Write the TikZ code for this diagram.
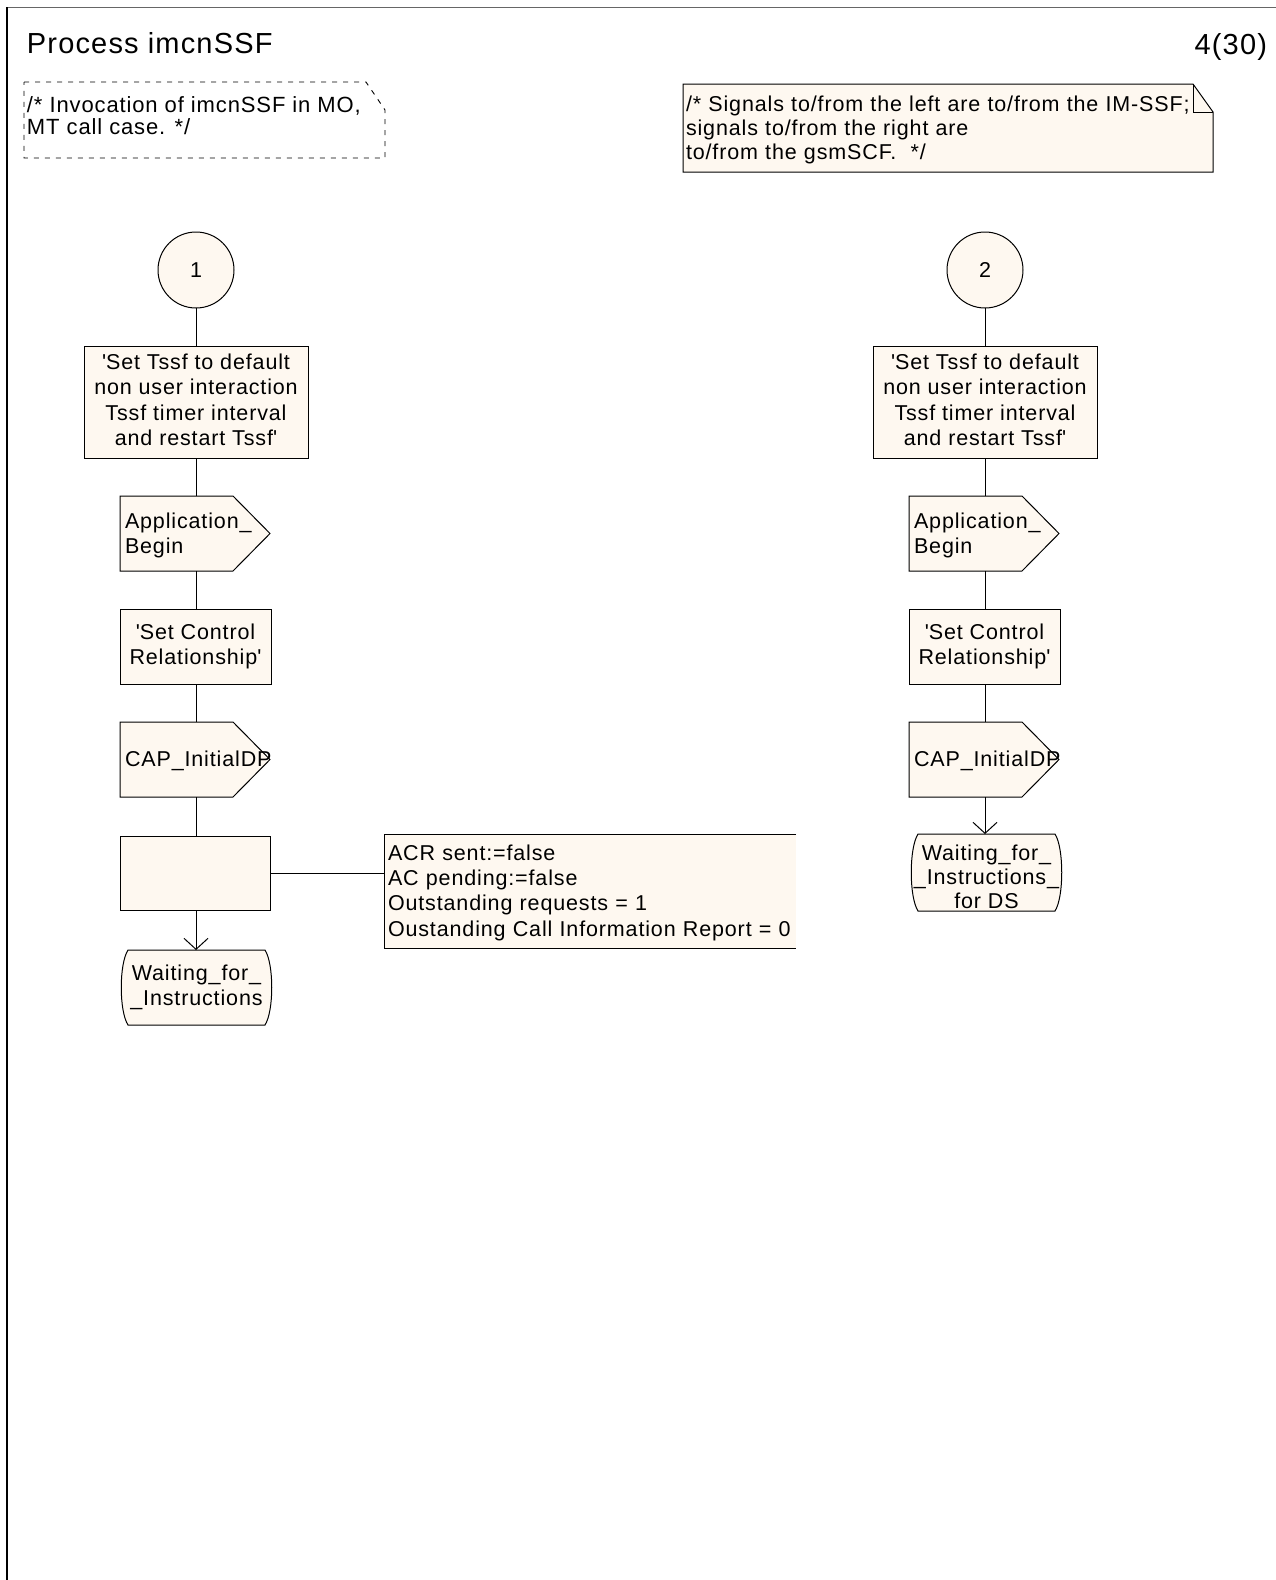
\documentclass[tikz,border=0pt]{standalone}
\usepackage{fontspec}
\setmainfont{Liberation Sans}[LetterSpace=4]
\usetikzlibrary{arrows.meta,calc,backgrounds}
\definecolor{cream}{HTML}{FEF8F0}
\newcommand{\qs}{\textquotesingle}
\newcommand{\mystrut}{\rule[-4.5pt]{0pt}{23.5pt}}
\newcommand{\sigpath}[1]{\draw[ln,fill=cream] (#1.north west) -- ([xshift=-37pt]#1.north east) -- (#1.east) -- ([xshift=-37pt]#1.south east) -- (#1.south west) -- cycle;}
\newcommand{\statepath}[1]{\draw[ln,fill=cream] ([xshift=8pt]#1.north west) -- ([xshift=-8pt]#1.north east) .. controls ([xshift=1pt,yshift=-14pt]#1.north east) and ([xshift=1pt,yshift=14pt]#1.south east) .. ([xshift=-8pt]#1.south east) -- ([xshift=8pt]#1.south west) .. controls ([xshift=-1pt,yshift=14pt]#1.south west) and ([xshift=-1pt,yshift=-14pt]#1.north west) .. cycle;}
\begin{document}
\begin{tikzpicture}[x=1pt,y=-1pt,
  every node/.style={inner sep=0pt,outer sep=0pt,font=\fontsize{21.5}{25.3}\selectfont},
  ln/.style={line width=1pt,draw=black},
  st/.style={execute at begin node={\mystrut},execute at end node={\mystrut}},
  boxnode/.style={ln,fill=cream,align=center,st},
  connector/.style={ln,fill=cream,circle,minimum size=76pt,st},
  sigbody/.style={anchor=west,minimum width=150pt,minimum height=75pt,text width=140pt,inner xsep=5pt,align=left,st},
  statebody/.style={minimum width=153pt,align=center,st},
  arr/.style={ln,-{Straight Barb[length=11pt,width=24pt,line width=1pt]}}
]
\begin{scope}[on background layer]
\fill[white] (0,0) rectangle (1276,1580);
\end{scope}
\useasboundingbox (0,0) rectangle (1276,1580);

% frame
\draw[line width=1.3pt,black!60] (7,7.5) -- (1276,7.5);
\draw[line width=1.3pt] (7,7) -- (7,1580);

% title
\node[anchor=base west,font=\fontsize{29}{34}\selectfont] (title) at (27,53) {Process imcnSSF};
\node[anchor=base east,font=\fontsize{29}{34}\selectfont] (page) at (1267,54) {4(30)};

% comment
\draw[line width=0.9pt,dash pattern=on 5pt off 6pt] (24,82) -- (366,82) -- (385,110) -- (385,158) -- (24,158) -- cycle;
\node[anchor=north west,align=left,font=\fontsize{22}{21.5}\selectfont] (cmt) at (27,97) {/* Invocation of imcnSSF in MO,\\MT call case. */};

% note
\node[anchor=north west,minimum width=530pt,minimum height=88pt,text width=524pt,inner xsep=3pt,align=left,font=\fontsize{21.5}{24.2}\selectfont,st] (note) at (683,84) {/* Signals to/from the left are to/from the IM-SSF;\\signals to/from the right are\\to/from the gsmSCF.\ \ */};

% left column
\node[connector] (c1) at (196,270) {1};
\node[boxnode,minimum width=224pt,minimum height=112pt] (b1) at (196,402) {\qs Set Tssf to default\\non user interaction\\Tssf timer interval\\and restart Tssf\qs};
\node[sigbody] (s1) at (120,533.5) {Application\_\\Begin};
\node[boxnode,minimum width=151pt,minimum height=75pt] (r1) at (195.5,646.5) {\qs Set Control\\Relationship\qs};
\node[sigbody] (p1) at (120,759.5) {CAP\_InitialDP};
\node[boxnode,minimum width=150pt,minimum height=74pt] (e1) at (195,873) {};
\node[anchor=north west,minimum width=412pt,minimum height=114pt,text width=408pt,inner xsep=4pt,align=left,st] (a1) at (384,834) {ACR sent:=false\\AC pending:=false\\Outstanding requests = 1\\Oustanding Call Information Report = 0};
\node[statebody,minimum height=75pt] (w1) at (196.5,987.5) {Waiting\_for\_\\\_Instructions};

% right column
\node[connector] (c2) at (985,270) {2};
\node[boxnode,minimum width=224pt,minimum height=112pt] (b2) at (985,402) {\qs Set Tssf to default\\non user interaction\\Tssf timer interval\\and restart Tssf\qs};
\node[sigbody] (s2) at (909,533.5) {Application\_\\Begin};
\node[boxnode,minimum width=151pt,minimum height=75pt] (r2) at (984.5,646.5) {\qs Set Control\\Relationship\qs};
\node[sigbody] (p2) at (909,759.5) {CAP\_InitialDP};
\node[statebody,minimum height=77pt] (w2) at (986.5,872.5) {};
\node[align=center,font=\fontsize{21.5}{24}\selectfont,st] (w2t) at ([yshift=-6pt]w2.center) {Waiting\_for\_\\\_Instructions\_\\for DS};

% shapes behind texts
\begin{scope}[on background layer]
\sigpath{s1}
\sigpath{p1}
\sigpath{s2}
\sigpath{p2}
\statepath{w1}
\statepath{w2}
\fill[cream] (a1.north west) rectangle ([xshift=412pt]a1.south west);
\draw[ln,fill=cream] (note.north west) -- ([xshift=-20pt]note.north east) -- ([yshift=-28pt]note.north east) -- (note.south east) -- (note.south west) -- cycle;
\end{scope}
\draw[ln] ([xshift=-20pt]note.north east) -- ([xshift=-20pt,yshift=-28pt]note.north east) -- ([yshift=-28pt]note.north east);
\draw[ln] ([xshift=412pt]a1.north west) -- (a1.north west) -- (a1.south west) -- ([xshift=412pt]a1.south west);

% connectors left
\draw[ln] (c1) -- (b1);
\draw[ln] (b1.south) -- (b1.south |- s1.north);
\draw[ln] (b1.south |- s1.south) -- (b1.south |- r1.north);
\draw[ln] (b1.south |- r1.south) -- (b1.south |- p1.north);
\draw[ln] (b1.south |- p1.south) -- (b1.south |- e1.north);
\draw[ln] (e1.east) -- (e1.east -| a1.west);
\draw[arr] (b1.south |- e1.south) -- (b1.south |- w1.north);

% connectors right
\draw[ln] (c2) -- (b2);
\draw[ln] (b2.south) -- (b2.south |- s2.north);
\draw[ln] (b2.south |- s2.south) -- (b2.south |- r2.north);
\draw[ln] (b2.south |- r2.south) -- (b2.south |- p2.north);
\draw[arr] (b2.south |- p2.south) -- (b2.south |- w2.north);
\end{tikzpicture}
\end{document}
